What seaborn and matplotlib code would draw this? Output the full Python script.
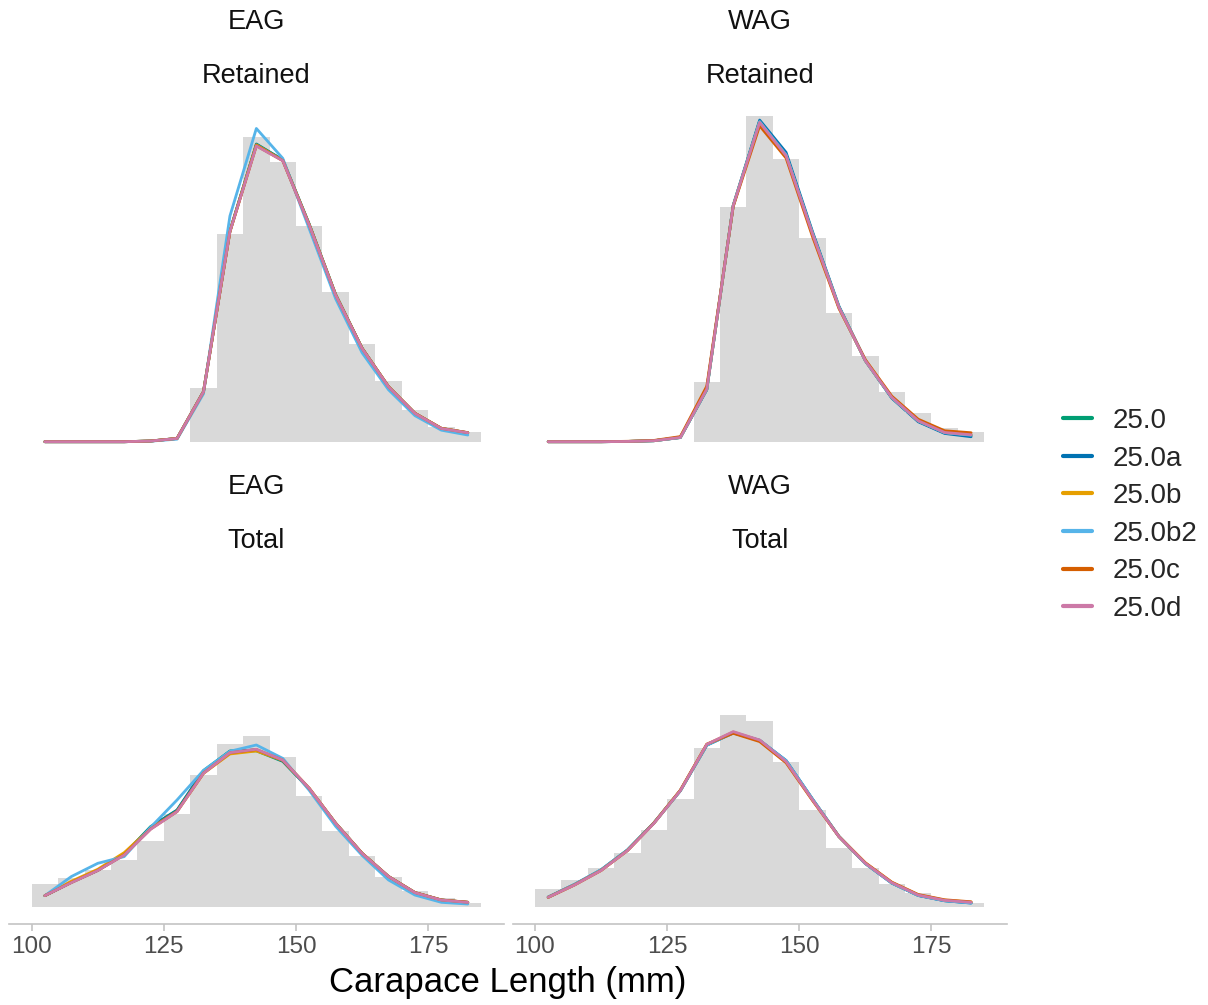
import numpy as np
import pandas as pd
import matplotlib
matplotlib.use("Agg")
import matplotlib.pyplot as plt
import seaborn as sns

# ---------------- data ----------------
length_mid = [102.5, 107.5, 112.5, 117.5, 122.5, 127.5, 132.5, 137.5, 142.5,
              147.5, 152.5, 157.5, 162.5, 167.5, 172.5, 177.5, 182.5]
bin_edges = [100, 105, 110, 115, 120, 125, 130, 135, 140, 145, 150, 155, 160,
             165, 170, 175, 180, 185]
models = ["25.0", "25.0a", "25.0b", "25.0b2", "25.0c", "25.0d"]
model_colors = ["#009E73", "#0072B2", "#E69F00", "#56B4E9", "#D55E00", "#CC79A7"]
area_labels = ["EAG", "WAG", "EAG", "WAG"]
type_labels = ["Retained", "Retained", "Total", "Total"]
x_ticks = [100, 125, 150, 175]
x_title = "Carapace Length (mm)"

# EAG retained
obs_eag_ret = [0, 0, 0, 0, 0, 0, 0.0375, 0.1456, 0.2138, 0.1966, 0.1515, 0.1049, 0.0684, 0.0426, 0.0223, 0.0105, 0.0066]
eag_ret_250 = [0, 0, 0, 0, 0.0005, 0.0023, 0.0352, 0.1480, 0.2091, 0.1980, 0.1528, 0.1034, 0.0657, 0.0386, 0.0199, 0.0093, 0.0063]
eag_ret_250a = [0, 0, 0, 0, 0.0005, 0.0023, 0.0352, 0.1478, 0.2088, 0.1978, 0.1526, 0.1032, 0.0656, 0.0386, 0.0199, 0.0093, 0.0062]
eag_ret_250b = [0, 0, 0, 0, 0.0005, 0.0023, 0.0351, 0.1476, 0.2085, 0.1976, 0.1524, 0.1031, 0.0656, 0.0387, 0.0200, 0.0094, 0.0063]
eag_ret_250b2 = [0, 0, 0, 0, 0.0004, 0.0018, 0.0337, 0.1585, 0.2200, 0.1990, 0.1496, 0.1004, 0.0625, 0.0365, 0.0183, 0.0081, 0.0047]
eag_ret_250c = [0, 0, 0, 0, 0.0005, 0.0023, 0.0351, 0.1474, 0.2079, 0.1974, 0.1523, 0.1031, 0.0656, 0.0387, 0.0200, 0.0094, 0.0064]
eag_ret_250d = [0, 0, 0, 0, 0.0005, 0.0023, 0.0351, 0.1475, 0.2077, 0.1973, 0.1522, 0.1030, 0.0655, 0.0386, 0.0199, 0.0093, 0.0063]

# WAG retained
obs_wag_ret = [0, 0, 0, 0, 0, 0, 0.0421, 0.1650, 0.2287, 0.1983, 0.1433, 0.0906, 0.0602, 0.0349, 0.0199, 0.0094, 0.0066]
wag_ret_250 = [0, 0, 0, 0.0002, 0.0007, 0.0030, 0.0368, 0.1658, 0.2250, 0.2018, 0.1465, 0.0946, 0.0568, 0.0308, 0.0144, 0.0062, 0.0045]
wag_ret_250a = [0, 0, 0, 0.0002, 0.0007, 0.0029, 0.0365, 0.1660, 0.2259, 0.2032, 0.1475, 0.0952, 0.0570, 0.0306, 0.0140, 0.0058, 0.0035]
wag_ret_250b = [0, 0, 0, 0.0002, 0.0007, 0.0030, 0.0370, 0.1656, 0.2245, 0.2010, 0.1460, 0.0943, 0.0569, 0.0311, 0.0147, 0.0065, 0.0048]
wag_ret_250b2 = [0, 0, 0, 0.0002, 0.0007, 0.0030, 0.0369, 0.1657, 0.2248, 0.2015, 0.1463, 0.0945, 0.0569, 0.0309, 0.0145, 0.0063, 0.0046]
wag_ret_250c = [0, 0, 0, 0.0003, 0.0009, 0.0036, 0.0390, 0.1652, 0.2219, 0.1992, 0.1440, 0.0936, 0.0576, 0.0320, 0.0158, 0.0077, 0.0063]
wag_ret_250d = [0, 0, 0, 0.0002, 0.0007, 0.0030, 0.0370, 0.1657, 0.2242, 0.2008, 0.1459, 0.0943, 0.0569, 0.0311, 0.0147, 0.0065, 0.0049]

# EAG total
obs_eag_tot = [0.0164, 0.0204, 0.0262, 0.0332, 0.0466, 0.0653, 0.0929, 0.1147, 0.1203, 0.1053, 0.0782, 0.0536, 0.0363, 0.0216, 0.0114, 0.0063, 0.0033]
eag_tot_250 = [0.0082, 0.0176, 0.0260, 0.0372, 0.0567, 0.0683, 0.0960, 0.1098, 0.1099, 0.1025, 0.0832, 0.0590, 0.0379, 0.0216, 0.0103, 0.0051, 0.0035]
eag_tot_250a = [0.0082, 0.0176, 0.0260, 0.0372, 0.0562, 0.0681, 0.0955, 0.1096, 0.1106, 0.1029, 0.0832, 0.0590, 0.0379, 0.0216, 0.0103, 0.0051, 0.0035]
eag_tot_250b = [0.0082, 0.0183, 0.0267, 0.0384, 0.0555, 0.0674, 0.0941, 0.1077, 0.1098, 0.1032, 0.0836, 0.0590, 0.0379, 0.0216, 0.0103, 0.0051, 0.0035]
eag_tot_250b2 = [0.0082, 0.0216, 0.0309, 0.0356, 0.0562, 0.0754, 0.0962, 0.1096, 0.1140, 0.1046, 0.0822, 0.0569, 0.0365, 0.0192, 0.0086, 0.0035, 0.0023]
eag_tot_250c = [0.0082, 0.0174, 0.0259, 0.0369, 0.0550, 0.0673, 0.0942, 0.1085, 0.1108, 0.1033, 0.0836, 0.0591, 0.0380, 0.0217, 0.0104, 0.0052, 0.0036]
eag_tot_250d = [0.0082, 0.0173, 0.0258, 0.0367, 0.0548, 0.0672, 0.0941, 0.1086, 0.1110, 0.1034, 0.0836, 0.0590, 0.0379, 0.0216, 0.0103, 0.0051, 0.0035]

# WAG total
obs_wag_tot = [0.0129, 0.0192, 0.0274, 0.0384, 0.0543, 0.0761, 0.1117, 0.1350, 0.1308, 0.1023, 0.0683, 0.0419, 0.0274, 0.0164, 0.0098, 0.0051, 0.0028]
wag_tot_250 = [0.0071, 0.0160, 0.0262, 0.0402, 0.0593, 0.0820, 0.1140, 0.1226, 0.1172, 0.1028, 0.0758, 0.0497, 0.0308, 0.0171, 0.0084, 0.0047, 0.0032]
wag_tot_250a = [0.0072, 0.0161, 0.0263, 0.0403, 0.0593, 0.0819, 0.1139, 0.1225, 0.1173, 0.1031, 0.0760, 0.0498, 0.0307, 0.0170, 0.0083, 0.0046, 0.0030]
wag_tot_250b = [0.0070, 0.0158, 0.0259, 0.0399, 0.0591, 0.0821, 0.1144, 0.1231, 0.1172, 0.1022, 0.0754, 0.0497, 0.0310, 0.0174, 0.0087, 0.0050, 0.0036]
wag_tot_250b2 = [0.0072, 0.0162, 0.0264, 0.0403, 0.0592, 0.0818, 0.1138, 0.1224, 0.1173, 0.1031, 0.0760, 0.0498, 0.0307, 0.0170, 0.0083, 0.0046, 0.0030]
wag_tot_250c = [0.0070, 0.0158, 0.0259, 0.0399, 0.0592, 0.0823, 0.1146, 0.1222, 0.1164, 0.1015, 0.0750, 0.0497, 0.0313, 0.0177, 0.0090, 0.0053, 0.0039]
wag_tot_250d = [0.0070, 0.0157, 0.0258, 0.0398, 0.0590, 0.0820, 0.1145, 0.1234, 0.1175, 0.1023, 0.0754, 0.0496, 0.0309, 0.0173, 0.0086, 0.0049, 0.0035]

panel_obs = [obs_eag_ret, obs_wag_ret, obs_eag_tot, obs_wag_tot]
panel_pred = [
    [eag_ret_250, eag_ret_250a, eag_ret_250b, eag_ret_250b2, eag_ret_250c, eag_ret_250d],
    [wag_ret_250, wag_ret_250a, wag_ret_250b, wag_ret_250b2, wag_ret_250c, wag_ret_250d],
    [eag_tot_250, eag_tot_250a, eag_tot_250b, eag_tot_250b2, eag_tot_250c, eag_tot_250d],
    [wag_tot_250, wag_tot_250a, wag_tot_250b, wag_tot_250b2, wag_tot_250c, wag_tot_250d],
]

# ---------------- style ----------------
sns.set_style("white")
plt.rcParams["font.family"] = ["Liberation Sans", "DejaVu Sans"]

W, H = 1208, 1005
fig = plt.figure(figsize=(W / 100, H / 100), dpi=100)

# panel geometry in pixels
px_left = [9.2, 512.5, 9.2, 512.5]
px_top = [99.8, 99.8, 565.4, 565.4]
px_w = 494.3
px_h = 358.2

all_max = max(max(o) for o in panel_obs)
ymin, ymax = -0.05 * all_max, 1.05 * all_max
xmin, xmax = 100 - 0.05 * 85, 185 + 0.05 * 85

palette = dict(zip(models, model_colors))
axes = []
for i in range(4):
    ax = fig.add_axes([px_left[i] / W, 1 - (px_top[i] + px_h) / H, px_w / W, px_h / H])
    axes.append(ax)
    sns.histplot(x=length_mid, weights=panel_obs[i], bins=bin_edges, ax=ax,
                 color="#D9D9D9", alpha=1, linewidth=0, edgecolor="none", stat="count")
    df = pd.DataFrame({
        "length": np.tile(length_mid, len(models)),
        "prop": np.concatenate(panel_pred[i]),
        "model": np.repeat(models, len(length_mid)),
    })
    sns.lineplot(data=df, x="length", y="prop", hue="model", hue_order=models,
                 palette=palette, linewidth=2.0, ax=ax, legend=(i == 0), sort=False)
    ax.set_xlim(xmin, xmax)
    ax.set_ylim(ymin, ymax)
    ax.set_xlabel("")
    ax.set_ylabel("")
    ax.set_yticks([])
    for s in ["left", "right", "top"]:
        ax.spines[s].set_visible(False)
    if i >= 2:
        ax.spines["bottom"].set_visible(True)
        ax.spines["bottom"].set_color("#C4C4C4")
        ax.spines["bottom"].set_linewidth(1.2)
        ax.set_xticks(x_ticks)
        ax.set_xticklabels([str(t) for t in x_ticks])
        ax.tick_params(axis="x", bottom=True, length=5, width=1.2, color="#C4C4C4",
                       labelsize=17.5, labelcolor="#4D4D4D", pad=4)
    else:
        ax.spines["bottom"].set_visible(False)
        ax.set_xticks([])
    cx = (px_left[i] + px_w / 2) / W
    fig.text(cx, 1 - (px_top[i] - 78) / H, area_labels[i], ha="center", va="center",
             fontsize=19.5, color="#111111")
    fig.text(cx, 1 - (px_top[i] - 24) / H, type_labels[i], ha="center", va="center",
             fontsize=19.5, color="#111111")

handles, labels = axes[0].get_legend_handles_labels()
axes[0].get_legend().remove()
for h in handles:
    h.set_linewidth(3)
fig.legend(handles, labels, loc="center left", bbox_to_anchor=(1063 / W, 1 - 515 / H),
           frameon=False, fontsize=20, handlelength=1.05, handletextpad=0.75,
           labelspacing=0.42, borderpad=0, borderaxespad=0)

fig.text(508 / W, 1 - 982 / H, x_title, ha="center", va="center", fontsize=25, color="black")

fig.savefig("out.png", dpi=100, facecolor="white")
